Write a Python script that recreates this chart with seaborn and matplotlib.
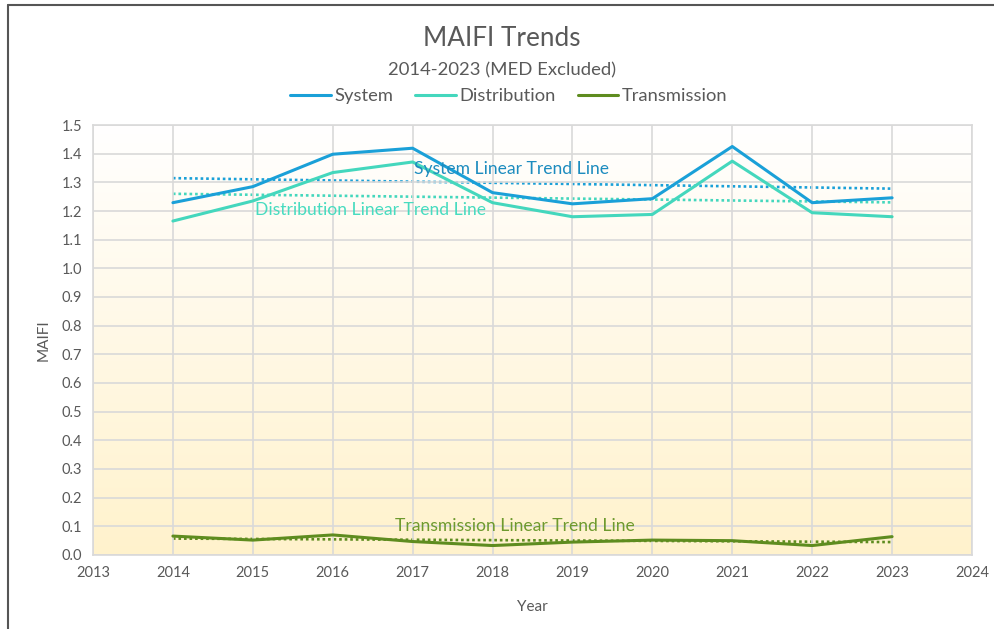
import numpy as np
import pandas as pd
import matplotlib
matplotlib.use("Agg")
import matplotlib.pyplot as plt
from matplotlib.lines import Line2D
from matplotlib.colors import LinearSegmentedColormap
import seaborn as sns

years = [2014, 2015, 2016, 2017, 2018, 2019, 2020, 2021, 2022, 2023]
system = [1.229, 1.285, 1.398, 1.419, 1.264, 1.225, 1.243, 1.425, 1.229, 1.246]
distribution = [1.165, 1.235, 1.334, 1.371, 1.229, 1.180, 1.188, 1.374, 1.194, 1.180]
transmission = [0.066, 0.052, 0.070, 0.047, 0.033, 0.045, 0.052, 0.050, 0.033, 0.064]
series_names = ["System", "Distribution", "Transmission"]
trend_labels = ["System Linear Trend Line", "Distribution Linear Trend Line",
                "Transmission Linear Trend Line"]
yticks = [round(0.1 * i, 1) for i in range(16)]
xticks = list(range(2013, 2025))

colors = {"System": "#1AA0D8", "Distribution": "#44D7BD", "Transmission": "#5E8C1F"}
label_colors = {"System": "#1D8CBF", "Distribution": "#48DCC0", "Transmission": "#6E9A2E"}

sns.set_theme(style="white")
plt.rcParams["font.family"] = ["Lato", "DejaVu Sans"]

df = pd.DataFrame({"Year": years * 3,
                   "MAIFI": system + distribution + transmission,
                   "Series": sum([[n] * len(years) for n in series_names], [])})

fig = plt.figure(figsize=(9.94, 6.29), dpi=100)
ax = fig.add_axes([93 / 994, 1 - 555 / 629, (972 - 93) / 994, (555 - 125) / 629])

# background gradient (white at top, light yellow at bottom)
cmap = LinearSegmentedColormap.from_list("bg", ["#FFFFFF", "#FFF2CC"])
grad = np.linspace(0, 1, 256).reshape(-1, 1)
ax.imshow(grad, cmap=cmap, aspect="auto", extent=[2013, 2024, 0.0, 1.5],
          origin="upper", zorder=0)

sns.lineplot(data=df, x="Year", y="MAIFI", hue="Series", palette=colors,
             linewidth=2.2, ax=ax, legend=False, zorder=3)

# linear trend lines
data_map = {"System": system, "Distribution": distribution, "Transmission": transmission}
yr = np.array(years)
for name in series_names:
    k, b = np.polyfit(yr, np.array(data_map[name]), 1)
    ax.plot(yr, k * yr + b, linestyle=(0, (1, 1.1)), color=colors[name], linewidth=1.9, zorder=2)

ax.text(2017.02, 1.345, trend_labels[0], color=label_colors["System"], fontsize=12.6, va="center", ha="left", zorder=4)
ax.text(2015.03, 1.205, trend_labels[1], color=label_colors["Distribution"], fontsize=12.6, va="center", ha="left", zorder=4)
ax.text(2016.78, 0.1, trend_labels[2], color=label_colors["Transmission"], fontsize=12.6, va="center", ha="left", zorder=4)

ax.set_xlim(2013, 2024)
ax.set_ylim(0, 1.5)
ax.set_xticks(xticks)
ax.set_xticklabels([str(x) for x in xticks])
ax.set_yticks(yticks)
ax.set_yticklabels([f"{v:.1f}" for v in yticks])
ax.grid(True, color="#D9D9D9", linewidth=1.2, zorder=1)
ax.set_axisbelow(False)
for gl in ax.get_xgridlines() + ax.get_ygridlines():
    gl.set_zorder(1)
for s in ax.spines.values():
    s.set_color("#D9D9D9")
    s.set_linewidth(1.2)
ax.tick_params(axis="both", length=0, labelsize=10.5, colors="#595959", pad=8)
ax.set_xlabel("Year", fontsize=11, color="#595959", labelpad=14)
ax.set_ylabel("MAIFI", fontsize=11, color="#595959", labelpad=8)

fig.text(0.505, 1 - 38 / 629, "MAIFI Trends", ha="center", va="center", fontsize=18.8, color="#595959")
fig.text(0.505, 1 - 70 / 629, "2014-2023 (MED Excluded)", ha="center", va="center", fontsize=13.3, color="#595959")

handles = [Line2D([0], [0], color=colors[n], linewidth=2.2) for n in series_names]
leg = fig.legend(handles, series_names, loc="center", bbox_to_anchor=(0.512, 1 - 96 / 629),
                 ncol=3, frameon=False, fontsize=13.2, handlelength=2.2, handletextpad=0.2,
                 columnspacing=1.2)
for t in leg.get_texts():
    t.set_color("#595959")

# outer frame
fig.add_artist(Line2D([8 / 994, 8 / 994], [0, 1 - 5 / 629], transform=fig.transFigure, color="#555555", linewidth=1.5))
fig.add_artist(Line2D([8 / 994, 1], [1 - 5 / 629, 1 - 5 / 629], transform=fig.transFigure, color="#555555", linewidth=1.5))

fig.savefig("out.png", dpi=100)
